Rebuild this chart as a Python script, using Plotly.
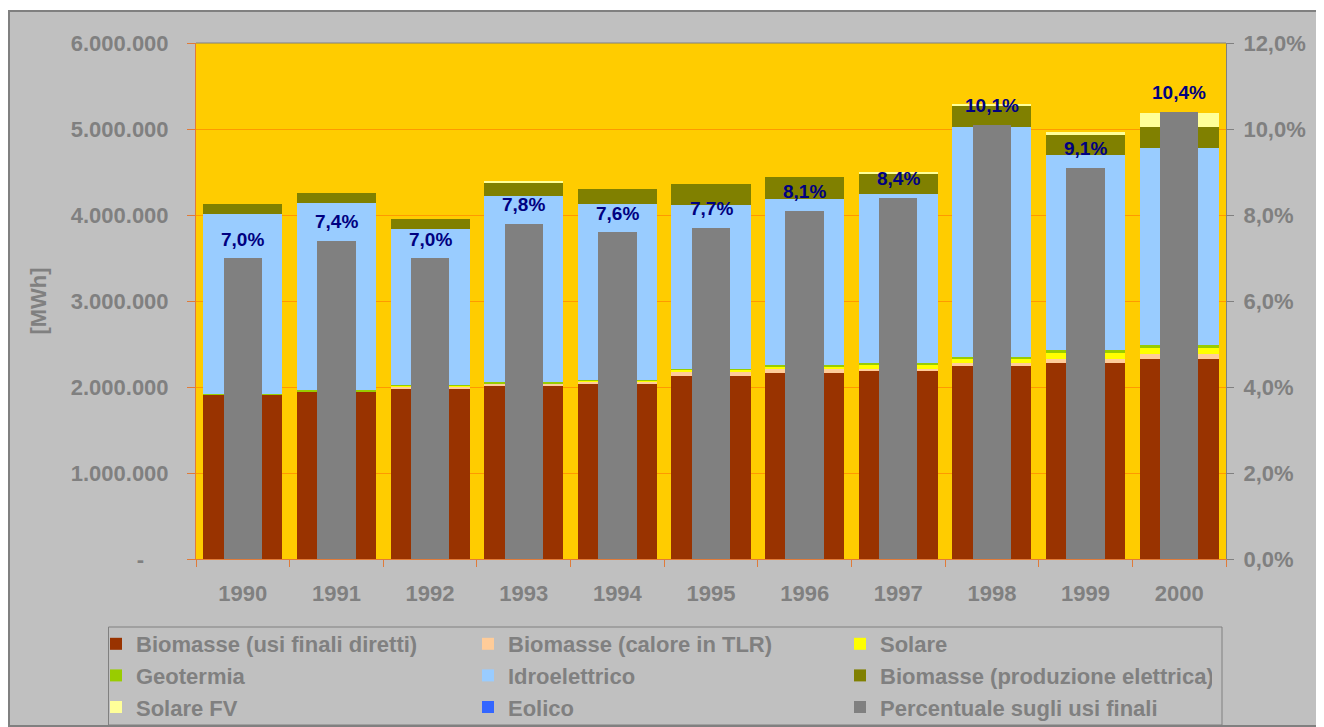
import plotly.graph_objects as go

# ---------------- data ----------------
years = ['1990', '1991', '1992', '1993', '1994', '1995', '1996', '1997', '1998', '1999', '2000']

bio_diretti   = [1910000, 1949000, 1980000, 2015000, 2038000, 2131000, 2166000, 2189000, 2247000, 2282000, 2329000]
bio_tlr       = [0, 0, 23000, 23000, 23000, 50000, 47000, 23000, 35000, 47000, 58000]
solare        = [0, 0, 12000, 5000, 12000, 20000, 23000, 47000, 47000, 70000, 70000]
geotermia     = [12000, 12000, 3000, 12000, 5000, 10000, 23000, 23000, 23000, 35000, 35000]
idro          = [2093000, 2182000, 1823000, 2170000, 2053000, 1909000, 1931000, 1966000, 2674000, 2267000, 2290000]
bio_elettrica = [116000, 116000, 116000, 154000, 175000, 244000, 256000, 240000, 248000, 233000, 244000]
solare_fv     = [0, 0, 0, 5000, 0, 0, 0, 5000, 8000, 30000, 163000]
eolico        = [0, 0, 0, 0, 0, 0, 0, 0, 0, 0, 0]
percentuale   = [0.070, 0.074, 0.070, 0.078, 0.076, 0.077, 0.081, 0.084, 0.101, 0.091, 0.104]

left_tickvals = [0, 1000000, 2000000, 3000000, 4000000, 5000000, 6000000]
left_ticktext = ['-\u00a0\u00a0\u00a0\u00a0', '1.000.000', '2.000.000', '3.000.000',
                 '4.000.000', '5.000.000', '6.000.000']
right_tickvals = [0, 0.02, 0.04, 0.06, 0.08, 0.10, 0.12]

series = [
    ('Biomasse (usi finali diretti)', bio_diretti, '#993300'),
    ('Biomasse (calore in TLR)', bio_tlr, '#FFCC99'),
    ('Solare', solare, '#FFFF00'),
    ('Geotermia', geotermia, '#99CC00'),
    ('Idroelettrico', idro, '#99CCFF'),
    ('Biomasse (produzione elettrica)', bio_elettrica, '#808000'),
    ('Solare FV', solare_fv, '#FFFF99'),
    ('Eolico', eolico, '#3366FF'),
]

FONT = 'Liberation Sans, Arial, sans-serif'
GRAY = '#808080'
ORANGE_AX = '#E07B39'

# geometry (page is offset by the 8px body margin)
OFF = 8
W, H = 1316, 719
L, R, T, B = 188, 98, 35, 168
PW, PH = W - L - R, H - T - B


def px(x_screen):
    return (x_screen - OFF - L) / PW


def py(y_screen):
    return (H - B - (y_screen - OFF)) / PH


fig = go.Figure()

for name, vals, col in series:
    fig.add_trace(go.Bar(
        x=years, y=vals, name=name, width=0.845,
        marker=dict(color=col, line=dict(width=0)),
        yaxis='y',
    ))

fig.add_trace(go.Bar(
    x=years, y=percentuale, name='Percentuale sugli usi finali', width=0.41,
    marker=dict(color=GRAY, line=dict(width=0)),
    yaxis='y2',
))

# percentage labels above the grey bars (x = category index on the category axis)
annotations = []
for i, v in enumerate(percentuale):
    annotations.append(dict(
        x=i, y=v, xref='x', yref='y2', showarrow=False,
        text=('%.1f%%' % (v * 100)).replace('.', ','),
        yanchor='middle', xanchor='center', yshift=19,
        font=dict(family=FONT, size=19, color='#000080', weight='bold'),
    ))

shapes = [
    # white strip above the chart frame
    dict(type='rect', xref='paper', yref='paper', x0=px(0), x1=px(1400), y0=py(10), y1=py(0),
         fillcolor='white', line=dict(width=0), layer='above'),
    # chart frame
    dict(type='rect', xref='paper', yref='paper', x0=px(9), x1=px(1323), y0=py(726), y1=py(11),
         fillcolor='rgba(0,0,0,0)', line=dict(color=GRAY, width=2), layer='above'),
    # plot area top border
    dict(type='line', xref='paper', yref='paper', x0=0, x1=1, y0=1, y1=1,
         line=dict(color=GRAY, width=1), layer='above'),
    # legend box
    dict(type='rect', xref='paper', yref='paper', x0=px(108.5), x1=px(1222), y0=py(725), y1=py(627),
         fillcolor='rgba(0,0,0,0)', line=dict(color=GRAY, width=1), layer='above'),
]

fig.update_layout(
    width=W, height=H,
    margin=dict(l=L, r=R, t=T, b=B, pad=0, autoexpand=False),
    paper_bgcolor='#C0C0C0', plot_bgcolor='#FFCC00',
    barmode='stack', bargap=0,
    separators=',.',
    font=dict(family=FONT, size=22, color=GRAY, weight='bold'),
    showlegend=True,
    legend=dict(
        orientation='h', x=px(96), xanchor='left', y=py(623), yanchor='top',
        entrywidth=327, entrywidthmode='pixels', itemwidth=30,
        traceorder='normal', bgcolor='rgba(0,0,0,0)', borderwidth=0,
        font=dict(family=FONT, size=22, color=GRAY, weight='bold'),
    ),
    xaxis=dict(
        type='category', categoryorder='array', categoryarray=years,
        range=[-0.5, len(years) - 0.5],
        tickson='boundaries', ticks='outside', ticklen=7,
        tickcolor=ORANGE_AX, tickwidth=1, showline=True, linecolor=ORANGE_AX, linewidth=1,
        showgrid=False, zeroline=False, ticklabelstandoff=15,
        tickfont=dict(family=FONT, size=22, color=GRAY, weight='bold'),
    ),
    yaxis=dict(
        range=[0, 6000000], tickmode='array', tickvals=left_tickvals, ticktext=left_ticktext,
        ticks='outside', ticklen=8, tickcolor=ORANGE_AX, tickwidth=1,
        showline=True, linecolor=ORANGE_AX, linewidth=1,
        showgrid=True, gridcolor='#FF9900', gridwidth=1, zeroline=False,
        ticklabelstandoff=14,
        tickfont=dict(family=FONT, size=22, color=GRAY, weight='bold'),
        title=dict(text='[MWh]', standoff=18,
                   font=dict(family=FONT, size=22, color=GRAY, weight='bold')),
    ),
    yaxis2=dict(
        overlaying='y', side='right', range=[0, 0.12], tickmode='array',
        tickvals=right_tickvals, tickformat='.1%',
        ticks='outside', ticklen=7, tickcolor=GRAY, tickwidth=1,
        showline=True, linecolor=GRAY, linewidth=1,
        showgrid=False, zeroline=False, ticklabelstandoff=5,
        tickfont=dict(family=FONT, size=22, color=GRAY, weight='bold'),
    ),
    shapes=shapes,
    annotations=annotations,
)

fig.write_html('out.html')
